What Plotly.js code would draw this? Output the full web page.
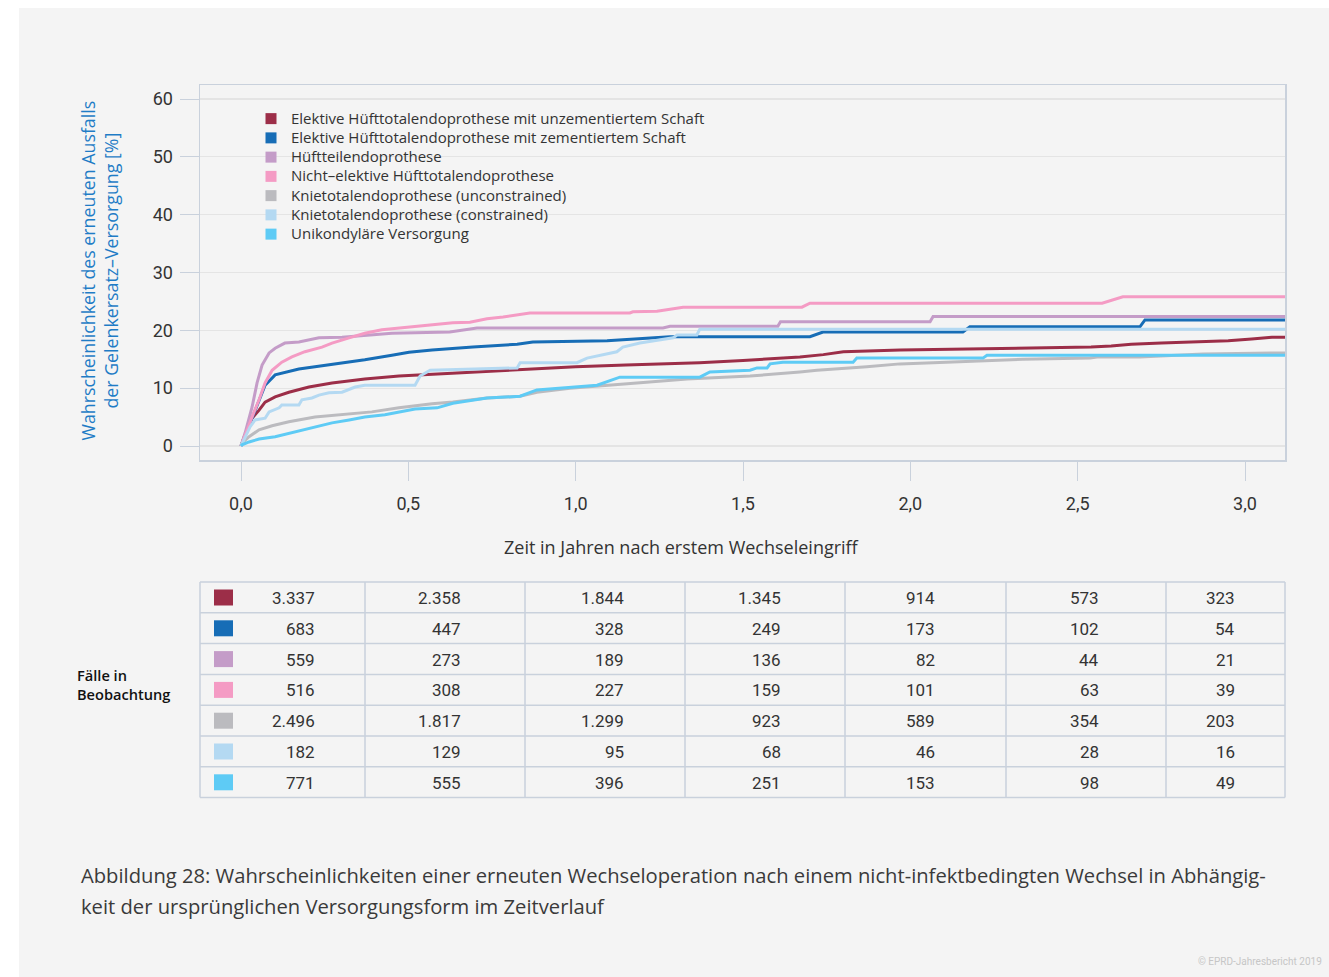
<!DOCTYPE html>
<html>
<head>
<meta charset="utf-8">
<script src="https://cdn.plot.ly/plotly-3.0.1.min.js"></script>
<style>
  html, body { margin: 0; padding: 0; background: #ffffff; }
  #chart { width: 1329px; height: 977px; }
</style>
</head>
<body>
<div id="chart"></div>
<script>
// ---------------- DATA ----------------
const seriesNames = [
  "Elektive Hüfttotalendoprothese mit unzementiertem Schaft",
  "Elektive Hüfttotalendoprothese mit zementiertem Schaft",
  "Hüftteilendoprothese",
  "Nicht–elektive Hüfttotalendoprothese",
  "Knietotalendoprothese (unconstrained)",
  "Knietotalendoprothese (constrained)",
  "Unikondyläre Versorgung"
];

// Elektive HTEP unzementiert
const xUnzem = [0, 0.006, 0.018, 0.033, 0.054, 0.072, 0.102, 0.143, 0.203, 0.272, 0.370, 0.472, 0.571, 0.70, 0.85, 1.0, 1.15, 1.30, 1.37, 1.50, 1.60, 1.67, 1.74, 1.80, 1.97, 2.10, 2.27, 2.40, 2.54, 2.60, 2.66, 2.75, 2.84, 2.95, 3.02, 3.08, 3.12];
const yUnzem = [0, 1.0, 2.8, 4.8, 6.2, 7.6, 8.5, 9.3, 10.2, 10.9, 11.6, 12.1, 12.4, 12.8, 13.3, 13.7, 14.0, 14.2, 14.4, 14.8, 15.1, 15.4, 15.8, 16.3, 16.6, 16.7, 16.9, 17.0, 17.1, 17.3, 17.6, 17.8, 18.0, 18.2, 18.5, 18.8, 18.8];

// Elektive HTEP zementiert
const xZem = [0, 0.012, 0.033, 0.054, 0.072, 0.102, 0.122, 0.173, 0.221, 0.302, 0.370, 0.451, 0.502, 0.571, 0.615, 0.693, 0.825, 0.872, 1.094, 1.192, 1.282, 1.700, 1.739, 2.157, 2.178, 2.686, 2.701, 3.12];
const yZem = [0, 1.9, 4.8, 8.0, 10.5, 12.3, 12.6, 13.3, 13.7, 14.3, 14.9, 15.7, 16.2, 16.6, 16.8, 17.1, 17.6, 18.0, 18.2, 18.6, 18.9, 18.9, 19.7, 19.7, 20.6, 20.6, 21.8, 21.8];

// Hüftteilendoprothese
const xTeil = [0, 0.012, 0.033, 0.048, 0.063, 0.084, 0.102, 0.131, 0.173, 0.233, 0.302, 0.391, 0.451, 0.624, 0.705, 1.261, 1.282, 1.604, 1.612, 2.059, 2.068, 3.12];
const yTeil = [0, 2.2, 6.7, 10.9, 14.0, 16.1, 16.9, 17.8, 18.0, 18.7, 18.8, 19.2, 19.5, 19.7, 20.4, 20.4, 20.7, 20.7, 21.5, 21.5, 22.4, 22.4];

// Nicht-elektive HTEP
const xNichtEl = [0, 0.012, 0.033, 0.054, 0.072, 0.093, 0.122, 0.152, 0.191, 0.242, 0.272, 0.323, 0.370, 0.421, 0.472, 0.532, 0.633, 0.684, 0.735, 0.783, 0.863, 1.162, 1.171, 1.243, 1.321, 1.676, 1.700, 2.573, 2.635, 3.12];
const yNichtEl = [0, 1.9, 5.0, 8.0, 10.9, 13.1, 14.5, 15.4, 16.3, 17.1, 17.8, 18.7, 19.5, 20.1, 20.4, 20.8, 21.3, 21.4, 22.0, 22.3, 23.0, 23.0, 23.2, 23.3, 24.0, 24.0, 24.7, 24.7, 25.8, 25.8];

// Knie unconstrained
const xKnieU = [0, 0.003, 0.024, 0.054, 0.093, 0.143, 0.221, 0.302, 0.391, 0.472, 0.571, 0.633, 0.735, 0.834, 0.884, 0.983, 1.082, 1.183, 1.333, 1.431, 1.521, 1.670, 1.721, 1.870, 1.969, 2.068, 2.208, 2.336, 2.537, 2.558, 2.686, 2.874, 3.12];
const yKnieU = [0, 0.5, 1.6, 2.8, 3.5, 4.2, 5.0, 5.4, 5.9, 6.6, 7.3, 7.6, 8.3, 8.6, 9.3, 10.0, 10.5, 10.9, 11.6, 11.9, 12.1, 12.8, 13.1, 13.7, 14.2, 14.4, 14.7, 15.0, 15.2, 15.4, 15.4, 15.9, 16.1];

// Knie constrained
const xKnieC = [0, 0.012, 0.027, 0.042, 0.072, 0.084, 0.114, 0.122, 0.173, 0.182, 0.212, 0.233, 0.263, 0.302, 0.341, 0.370, 0.520, 0.535, 0.565, 0.825, 0.834, 1.004, 1.034, 1.123, 1.141, 1.192, 1.291, 1.303, 1.362, 1.371, 3.12];
const yKnieC = [0, 1.6, 3.3, 4.5, 4.8, 5.9, 6.6, 7.1, 7.1, 8.0, 8.3, 8.8, 9.2, 9.3, 10.2, 10.5, 10.5, 12.1, 13.1, 13.5, 14.4, 14.4, 15.2, 16.3, 17.1, 17.8, 18.7, 19.2, 19.2, 20.2, 20.2];

// Unikondyläre Versorgung
const xUni = [0, 0.003, 0.024, 0.054, 0.102, 0.143, 0.191, 0.233, 0.272, 0.323, 0.370, 0.430, 0.472, 0.520, 0.586, 0.633, 0.735, 0.834, 0.884, 0.983, 1.064, 1.132, 1.371, 1.401, 1.521, 1.542, 1.572, 1.581, 1.619, 1.829, 1.840, 2.217, 2.229, 3.12];
const yUni = [0, 0.2, 0.7, 1.2, 1.6, 2.2, 2.8, 3.5, 4.0, 4.5, 5.0, 5.4, 5.9, 6.4, 6.6, 7.4, 8.3, 8.6, 9.7, 10.2, 10.5, 11.9, 11.9, 12.8, 13.1, 13.5, 13.5, 14.2, 14.5, 14.5, 15.2, 15.2, 15.7, 15.7];

// Fälle in Beobachtung (7 Spalten je Versorgungsform)
const casesUnzem   = [3337, 2358, 1844, 1345, 914, 573, 323];
const casesZem     = [683, 447, 328, 249, 173, 102, 54];
const casesTeil    = [559, 273, 189, 136, 82, 44, 21];
const casesNichtEl = [516, 308, 227, 159, 101, 63, 39];
const casesKnieU   = [2496, 1817, 1299, 923, 589, 354, 203];
const casesKnieC   = [182, 129, 95, 68, 46, 28, 16];
const casesUni     = [771, 555, 396, 251, 153, 98, 49];

const xTickVals = [0, 0.5, 1.0, 1.5, 2.0, 2.5, 3.0];
const yTickVals = [0, 10, 20, 30, 40, 50, 60];

const yTitleText = "Wahrscheinlichkeit des erneuten Ausfalls<br>der Gelenkersatz–Versorgung [%]";
const xTitleText = "Zeit in Jahren nach erstem Wechseleingriff";
const tableLabel = "Fälle in<br>Beobachtung";
const captionLines = [
  "Abbildung 28: Wahrscheinlichkeiten einer erneuten Wechseloperation nach einem nicht-infektbedingten Wechsel in Abhängig-",
  "keit der ursprünglichen Versorgungsform im Zeitverlauf"
];
const copyrightText = "© EPRD-Jahresbericht 2019";

// ---------------- STYLE ----------------
const colors = ["#9c2e48", "#176db6", "#c49cc8", "#f49bc4", "#bbbbbf", "#b4d9f2", "#5ecbf5"];
const W = 1329, H = 977;
const FONT = "Roboto, 'Open Sans', sans-serif";
const TFONT = "'Open Sans', Roboto, sans-serif";
const px = x => x / W;
const py = y => 1 - y / H;
const frameColor = "#c9d1dc";

const xs = [xUnzem, xZem, xTeil, xNichtEl, xKnieU, xKnieC, xUni];
const ys = [yUnzem, yZem, yTeil, yNichtEl, yKnieU, yKnieC, yUni];
const cases = [casesUnzem, casesZem, casesTeil, casesNichtEl, casesKnieU, casesKnieC, casesUni];

function fmtDE(n) {
  return String(n).replace(/\B(?=(\d{3})+(?!\d))/g, ".");
}

const traces = [];
for (let i = 0; i < xs.length; i++) {
  traces.push({
    type: "scatter", mode: "lines", x: xs[i], y: ys[i],
    line: { color: colors[i], width: 3, shape: "linear" },
    showlegend: false, hoverinfo: "skip"
  });
}
for (let i = 0; i < seriesNames.length; i++) {
  traces.push({
    type: "scatter", mode: "markers", x: [null], y: [null],
    name: '<span style="font-size:15px">' + seriesNames[i] + '</span>',
    marker: { symbol: "square", size: 11, color: colors[i] },
    showlegend: true
  });
}

// table geometry (pixels)
const colEdges = [200, 365, 525, 685, 845, 1006, 1166, 1285];
const textRight = [317, 463, 626, 783, 937, 1101, 1237];
const tableTop = 582, rowH = 30.8;

const shapes = [];
const annotations = [];
// page background
shapes.push({ type: "rect", xref: "paper", yref: "paper", x0: px(19), x1: px(W), y0: py(8), y1: py(H),
  fillcolor: "#f4f4f4", line: { width: 0 }, layer: "below" });

// table grid
for (let r = 0; r <= cases.length; r++) {
  const y = tableTop + r * rowH;
  shapes.push({ type: "line", xref: "paper", yref: "paper", x0: px(colEdges[0]), x1: px(colEdges[colEdges.length - 1]),
    y0: py(y), y1: py(y), line: { color: frameColor, width: 1.5 } });
}
for (let c = 0; c < colEdges.length; c++) {
  shapes.push({ type: "line", xref: "paper", yref: "paper", x0: px(colEdges[c]), x1: px(colEdges[c]),
    y0: py(tableTop), y1: py(tableTop + cases.length * rowH), line: { color: frameColor, width: 1.5 } });
}
for (let r = 0; r < cases.length; r++) {
  const top = tableTop + r * rowH;
  shapes.push({ type: "rect", xref: "paper", yref: "paper", x0: px(214), x1: px(233), y0: py(top + 7.5), y1: py(top + 23.5),
    fillcolor: colors[r], line: { width: 0 } });
  for (let c = 0; c < cases[r].length; c++) {
    annotations.push({ xref: "paper", yref: "paper", x: px(textRight[c]), y: py(top + rowH / 2 + 0.5),
      xanchor: "right", yanchor: "middle", showarrow: false, text: fmtDE(cases[r][c]),
      font: { family: FONT, size: 17, color: "#333333" } });
  }
}
annotations.push({ xref: "paper", yref: "paper", x: px(75), y: py(684), xanchor: "left", yanchor: "middle",
  align: "left", showarrow: false, text: tableLabel, font: { family: TFONT, size: 14.6, color: "#111111", weight: 600 } });

// axis titles
annotations.push({ xref: "paper", yref: "paper", x: px(98.5), y: py(270), xanchor: "center", yanchor: "middle",
  textangle: -90, showarrow: false, text: yTitleText, font: { family: TFONT, size: 17.8, color: "#1f7cc6" } });
annotations.push({ xref: "paper", yref: "paper", x: px(681), y: py(547), xanchor: "center", yanchor: "middle",
  showarrow: false, text: xTitleText, font: { family: TFONT, size: 18, color: "#333333" } });

// caption
captionLines.forEach((t, i) => {
  annotations.push({ xref: "paper", yref: "paper", x: px(79), y: py(875 + i * 31), xanchor: "left", yanchor: "middle",
    showarrow: false, text: t, font: { family: TFONT, size: 20.2, color: "#3a3a3a" } });
});
annotations.push({ xref: "paper", yref: "paper", x: px(1324), y: py(961), xanchor: "right", yanchor: "middle",
  showarrow: false, text: copyrightText, font: { family: FONT, size: 10, color: "#c6c6c6" } });

const layout = {
  width: W, height: H,
  margin: { l: 0, r: 0, t: 0, b: 0, pad: 0 },
  paper_bgcolor: "#ffffff",
  plot_bgcolor: "rgba(0,0,0,0)",
  separators: ",.",
  font: { family: FONT, color: "#333333" },
  showlegend: true,
  legend: {
    x: px(251), y: py(104), xanchor: "left", yanchor: "top",
    bgcolor: "rgba(0,0,0,0)", borderwidth: 0,
    font: { family: TFONT, size: 12.5, color: "#333333" },
    tracegroupgap: 0, itemclick: false, itemdoubleclick: false
  },
  xaxis: {
    domain: [px(200), px(1285)], range: [-0.1225, 3.1195],
    tickvals: xTickVals, tickformat: ".1f",
    ticks: "outside", ticklen: 19, tickwidth: 1, tickcolor: frameColor,
    ticklabelstandoff: 8,
    tickfont: { family: FONT, size: 18, color: "#333333" },
    showgrid: false, zeroline: false,
    showline: true, mirror: true, linecolor: frameColor, linewidth: 1.5,
    fixedrange: true
  },
  yaxis: {
    domain: [py(460), py(85)], range: [-2.42, 62.42],
    tickvals: yTickVals,
    ticks: "outside", ticklen: 19, tickwidth: 1, tickcolor: frameColor,
    ticklabelstandoff: 3,
    tickfont: { family: FONT, size: 18, color: "#333333" },
    showgrid: true, gridcolor: "#e4e4e4", gridwidth: 1.2, zeroline: false,
    showline: true, mirror: true, linecolor: frameColor, linewidth: 1.5,
    fixedrange: true
  },
  shapes: shapes,
  annotations: annotations
};

Plotly.newPlot("chart", traces, layout, { displayModeBar: false, staticPlot: true });
</script>
</body>
</html>
